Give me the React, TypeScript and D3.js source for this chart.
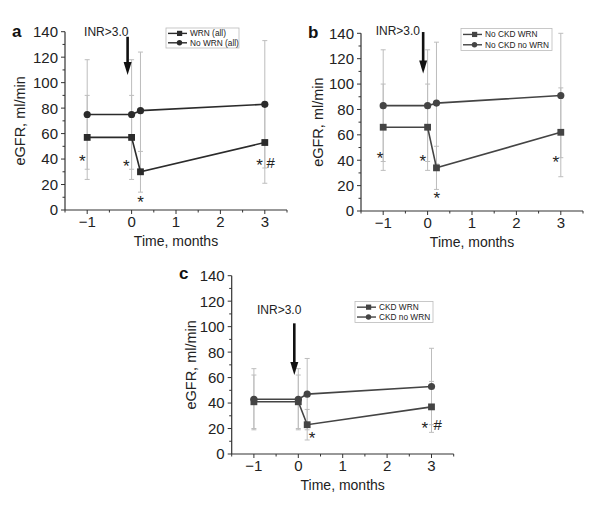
import React from "react";
import * as d3 from "d3";

// ---- data ----
const TIMES = [-1, 0, 0.2, 3];
const X_TICKS = [-1, 0, 1, 2, 3];
const Y_TICKS = [0, 20, 40, 60, 80, 100, 120, 140];

const A_WRN = [57, 57, 30, 53];
const A_WRN_SD = [33, 33, 16, 32];
const A_NOWRN = [75, 75, 78, 83];
const A_NOWRN_SD = [43, 43, 46, 50];

const B_WRN = [66, 66, 34, 62];
const B_WRN_SD = [34, 34, 17, 35];
const B_NOWRN = [83, 83, 85, 91];
const B_NOWRN_SD = [44, 44, 48, 49];

const C_WRN = [41, 41, 23, 37];
const C_WRN_SD = [21, 21, 12, 20];
const C_NOWRN = [43, 43, 47, 53];
const C_NOWRN_SD = [24, 24, 28, 30];

const A_LABELS = ["WRN (all)", "No WRN (all)"];
const B_LABELS = ["No CKD WRN", "No CKD no WRN"];
const C_LABELS = ["CKD WRN", "CKD no WRN"];

// annotation marks: [text, x (months), y (eGFR)]
const A_MARKS: [string, number, number][] = [
  ["*", -1.11, 40.8], ["*", -0.12, 36.9], ["*", 0.2, 8.6], ["*", 2.88, 37.6], ["#", 3.13, 37.6],
];
const B_MARKS: [string, number, number][] = [
  ["*", -1.07, 44], ["*", -0.11, 41.7], ["*", 0.21, 12.6], ["*", 2.89, 40.9],
];
const C_MARKS: [string, number, number][] = [
  ["*", 0.31, 14.9], ["*", 2.85, 22.8], ["#", 3.14, 22.8],
];

const FONT = "Liberation Sans, Arial, Helvetica, sans-serif";

type PanelProps = {
  letter: string;
  x0: number; x1: number; yb: number; yt: number;
  wrn: number[]; wrnSd: number[]; nowrn: number[]; nowrnSd: number[];
  labels: string[];
  marks: [string, number, number][];
  arrowX: number; arrowTop: number; arrowBot: number;
  inrX: number; inrY: number;
  legend: { x: number; y: number; w: number; h: number };
  ylabX: number;
  lineColor: string;
  letterPos: [number, number];
};

function Panel(p: PanelProps) {
  const x = d3.scaleLinear().domain([-1.5, 3.5]).range([p.x0, p.x1]);
  const y = d3.scaleLinear().domain([0, 140]).range([p.yb, p.yt]);
  const line = d3.line<number>().x((_, i) => x(TIMES[i])).y((d) => y(d));
  const minorX = d3.range(-1.5, 3.51, 0.5);
  const minorY = d3.range(0, 141, 10);
  const errColor = "#bdbdbd";
  const errBars = (vals: number[], sds: number[], key: string) =>
    vals.map((v, i) => {
      const cx = x(TIMES[i]);
      const lo = y(v - sds[i]);
      const hi = y(v + sds[i]);
      return (
        <g key={key + i} stroke={errColor} strokeWidth={1}>
          <line x1={cx} x2={cx} y1={lo} y2={hi} />
          <line x1={cx - 2.5} x2={cx + 2.5} y1={lo} y2={lo} />
          <line x1={cx - 2.5} x2={cx + 2.5} y1={hi} y2={hi} />
        </g>
      );
    });
  const ax = x(p.arrowX);
  const aTop = y(p.arrowTop);
  const aBot = y(p.arrowBot);
  const lg = p.legend;
  return (
    <g fontFamily={FONT}>
      <text x={p.letterPos[0]} y={p.letterPos[1]} fontSize={17} fontWeight="bold" fill="#111">{p.letter}</text>
      {errBars(p.nowrn, p.nowrnSd, "n")}
      {errBars(p.wrn, p.wrnSd, "w")}
      {/* axes */}
      <line x1={p.x0} x2={p.x0} y1={p.yb} y2={p.yt} stroke="#333" strokeWidth={1.2} />
      <line x1={p.x0} x2={p.x1} y1={p.yb} y2={p.yb} stroke="#333" strokeWidth={1.2} />
      {minorY.map((t) => (
        <line key={"my" + t} x1={p.x0 - (t % 20 === 0 ? 4 : 2.5)} x2={p.x0} y1={y(t)} y2={y(t)} stroke="#333" />
      ))}
      {minorX.map((t) => (
        <line key={"mx" + t} x1={x(t)} x2={x(t)} y1={p.yb} y2={p.yb + (Number.isInteger(t) ? 4 : 2.5)} stroke="#333" />
      ))}
      {Y_TICKS.map((t) => (
        <text key={"yt" + t} x={p.x0 - 7} y={y(t)} dy="0.36em" textAnchor="end" fontSize={15} fill="#222">{t}</text>
      ))}
      {X_TICKS.map((t) => (
        <text key={"xt" + t} x={x(t)} y={p.yb + 17} textAnchor="middle" fontSize={15} fill="#222">{d3.format("d")(t)}</text>
      ))}
      <text transform={`translate(${p.ylabX},${(p.yb + p.yt) / 2}) rotate(-90)`} textAnchor="middle" fontSize={14.5} fill="#222">eGFR, ml/min</text>
      <text x={(p.x0 + p.x1) / 2} y={p.yb + 36} textAnchor="middle" fontSize={14} fill="#222">Time, months</text>
      {/* series */}
      <path d={line(p.nowrn) || ""} fill="none" stroke={p.lineColor} strokeWidth={1.6} />
      <path d={line(p.wrn) || ""} fill="none" stroke={p.lineColor} strokeWidth={1.6} />
      {p.nowrn.map((v, i) => (
        <circle key={"c" + i} cx={x(TIMES[i])} cy={y(v)} r={3.6} fill={p.lineColor} />
      ))}
      {p.wrn.map((v, i) => (
        <rect key={"s" + i} x={x(TIMES[i]) - 3.4} y={y(v) - 3.4} width={6.8} height={6.8} fill={p.lineColor} />
      ))}
      {/* marks */}
      {p.marks.map(([t, mx, my], i) => (
        <text key={"m" + i} x={x(mx)} y={y(my) + (t === "*" ? 9 : 5.5)} textAnchor="middle" fontSize={t === "*" ? 17 : 15} fill="#222">{t}</text>
      ))}
      {/* arrow */}
      <line x1={ax} x2={ax} y1={aTop} y2={aBot - 11} stroke="#111" strokeWidth={2.6} />
      <path d={`M${ax - 4},${aBot - 13} L${ax + 4},${aBot - 13} L${ax},${aBot} Z`} fill="#111" />
      <text x={x(p.inrX)} y={y(p.inrY)} textAnchor="middle" fontSize={12} fill="#222">INR&gt;3.0</text>
      {/* legend */}
      <rect x={lg.x} y={lg.y} width={lg.w} height={lg.h} fill="#fff" stroke="#bbb" strokeWidth={0.8} />
      {p.labels.map((lab, i) => {
        const ly = lg.y + lg.h * (i === 0 ? 0.27 : 0.74);
        return (
          <g key={"l" + i}>
            <line x1={lg.x + 2} x2={lg.x + 21} y1={ly} y2={ly} stroke={p.lineColor} strokeWidth={1.4} />
            {i === 0 ? (
              <rect x={lg.x + 11} y={ly - 2.6} width={5.2} height={5.2} fill={p.lineColor} />
            ) : (
              <circle cx={lg.x + 13.5} cy={ly} r={2.7} fill={p.lineColor} />
            )}
            <text x={lg.x + 24} y={ly} dy="0.35em" fontSize={8.3} fill="#222">{lab}</text>
          </g>
        );
      })}
    </g>
  );
}

export default function App() {
  return (
    <svg width={600} height={507} style={{ position: "absolute", left: 0, top: 0, background: "#fff" }}>
      <Panel
        letter="a" letterPos={[12, 37]}
        x0={65} x1={287} yb={210} yt={31.7}
        wrn={A_WRN} wrnSd={A_WRN_SD} nowrn={A_NOWRN} nowrnSd={A_NOWRN_SD}
        labels={A_LABELS} marks={A_MARKS}
        arrowX={-0.09} arrowTop={136} arrowBot={106}
        inrX={-0.57} inrY={137}
        legend={{ x: 166, y: 28, w: 73, h: 20 }}
        ylabX={25}
        lineColor="#2b2b2b"
      />
      <Panel
        letter="b" letterPos={[308, 38]}
        x0={361} x1={583} yb={211} yt={33.3}
        wrn={B_WRN} wrnSd={B_WRN_SD} nowrn={B_NOWRN} nowrnSd={B_NOWRN_SD}
        labels={B_LABELS} marks={B_MARKS}
        arrowX={-0.1} arrowTop={141} arrowBot={108.3}
        inrX={-0.67} inrY={139}
        legend={{ x: 461, y: 28.5, w: 91, h: 22 }}
        ylabX={323}
        lineColor="#444"
      />
      <Panel
        letter="c" letterPos={[179, 279]}
        x0={231.7} x1={453.7} yb={454} yt={275.7}
        wrn={C_WRN} wrnSd={C_WRN_SD} nowrn={C_NOWRN} nowrnSd={C_NOWRN_SD}
        labels={C_LABELS} marks={C_MARKS}
        arrowX={-0.09} arrowTop={102.6} arrowBot={62}
        inrX={-0.43} inrY={110}
        legend={{ x: 355, y: 301.5, w: 78, h: 21 }}
        ylabX={196}
        lineColor="#444"
      />
    </svg>
  );
}
